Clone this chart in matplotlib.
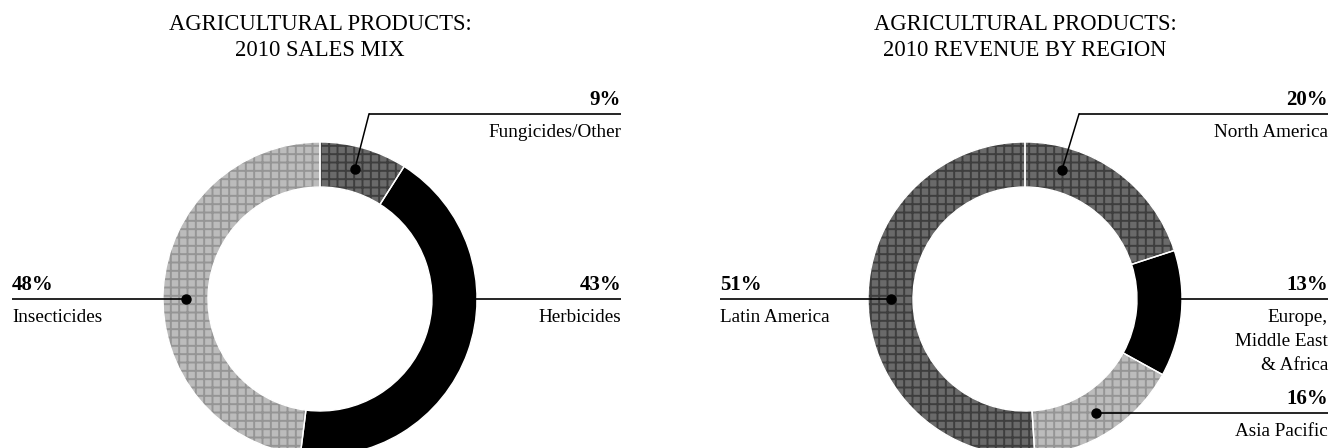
import numpy as np
import matplotlib
matplotlib.use('Agg')
import matplotlib.pyplot as plt

# ---------------- data ----------------
sales_title = ['AGRICULTURAL PRODUCTS:', '2010 SALES MIX']
sales_labels = ['Fungicides/Other', 'Herbicides', 'Insecticides']
sales_values = [9, 43, 48]

region_title = ['AGRICULTURAL PRODUCTS:', '2010 REVENUE BY REGION']
region_labels = ['North America', 'Europe,\nMiddle East\n& Africa', 'Asia Pacific', 'Latin America']
region_values = [20, 13, 16, 51]

# ---------------- layout / style ----------------
W, H, DPI = 1332, 448, 100
R_OUT, R_IN = 157, 112
R_MID = (R_OUT + R_IN) / 2
SERIF = ['Liberation Serif', 'DejaVu Serif']

DARK = dict(face='#6a6a6a', hatch='#3e3e3e')
LIGHT = dict(face='#bcbcbc', hatch='#959595')
BLACK = dict(face='#000000', hatch=None)

sales_styles = [DARK, BLACK, LIGHT]
region_styles = [DARK, BLACK, LIGHT, DARK]

sales_layout = [
    dict(side='right', angle=15, elbow=(369, 114)),
    dict(side='right', angle=90, elbow=None),
    dict(side='left', angle=270, elbow=None),
]
region_layout = [
    dict(side='right', angle=16, elbow=(1079, 114)),
    dict(side='right', angle=90, elbow=None),
    dict(side='right', angle=148, elbow=None),
    dict(side='left', angle=270, elbow=None),
]

plt.rcParams['hatch.linewidth'] = 1.4

fig = plt.figure(figsize=(W / DPI, H / DPI), dpi=DPI)
ax = fig.add_axes([0, 0, 1, 1])
ax.set_autoscale_on(False)


def Y(y):
    return H - y


def donut(cx, cy, values, styles):
    n = len(values)
    wp = dict(width=R_OUT - R_IN, linewidth=0, edgecolor='none')
    ax.pie(values, startangle=90, counterclock=False, center=(cx, Y(cy)),
           radius=R_OUT, frame=True, colors=[s['face'] for s in styles],
           wedgeprops=wp)
    hw, _ = ax.pie(values, startangle=90, counterclock=False, center=(cx, Y(cy)),
                   radius=R_OUT, frame=True, colors=['none'] * n,
                   wedgeprops=dict(width=R_OUT - R_IN))
    for w, s in zip(hw, styles):
        if s['hatch']:
            w.set_edgecolor(s['hatch'])
            w.set_hatch('++')
        else:
            w.set_edgecolor('none')
        w.set_linewidth(0)
    ax.pie(values, startangle=90, counterclock=False, center=(cx, Y(cy)),
           radius=R_OUT, frame=True, colors=['none'] * n,
           wedgeprops=dict(width=R_OUT - R_IN, linewidth=1.0, edgecolor='white'))


def labels(cx, cy, values, names, layout, left_x, right_x):
    for v, name, lay in zip(values, names, layout):
        a = np.radians(lay['angle'])
        dx = cx + R_MID * np.sin(a)
        dy = cy - R_MID * np.cos(a)
        if lay['elbow'] is not None:
            ex, ey = lay['elbow']
            ax.plot([dx, ex], [Y(dy), Y(ey)], color='black', lw=1.1)
            line_y, start_x = ey, ex
        else:
            line_y, start_x = dy, dx
        right = lay['side'] == 'right'
        end_x = right_x if right else left_x
        ax.plot([start_x, end_x], [Y(line_y), Y(line_y)], color='black', lw=1.2,
                solid_capstyle='butt')
        ax.plot([dx], [Y(dy)], 'o', ms=6.5, color='black')
        ha = 'right' if right else 'left'
        ax.text(end_x, Y(line_y - 9), f'{v}%', ha=ha, va='baseline',
                fontsize=15, fontweight='bold', family=SERIF)
        for i, ln in enumerate(name.split('\n')):
            ax.text(end_x, Y(line_y + 23 + i * 24), ln, ha=ha, va='baseline',
                    fontsize=13.8, family=SERIF)


def title(cx, lines):
    for i, t in enumerate(lines):
        ax.text(cx, Y(30 + i * 26), t, ha='center', va='baseline',
                fontsize=16.3, family=SERIF)


L_CX, R_CX, CY = 320, 1025, 299
donut(L_CX, CY, sales_values, sales_styles)
labels(L_CX, CY, sales_values, sales_labels, sales_layout, 12, 621)
title(L_CX, sales_title)

donut(R_CX, CY, region_values, region_styles)
labels(R_CX, CY, region_values, region_labels, region_layout, 720, 1328)
title(R_CX, region_title)

ax.set_xlim(0, W)
ax.set_ylim(0, H)
ax.set_aspect('auto')
ax.axis('off')

fig.savefig('out.png', dpi=DPI, facecolor='white')
